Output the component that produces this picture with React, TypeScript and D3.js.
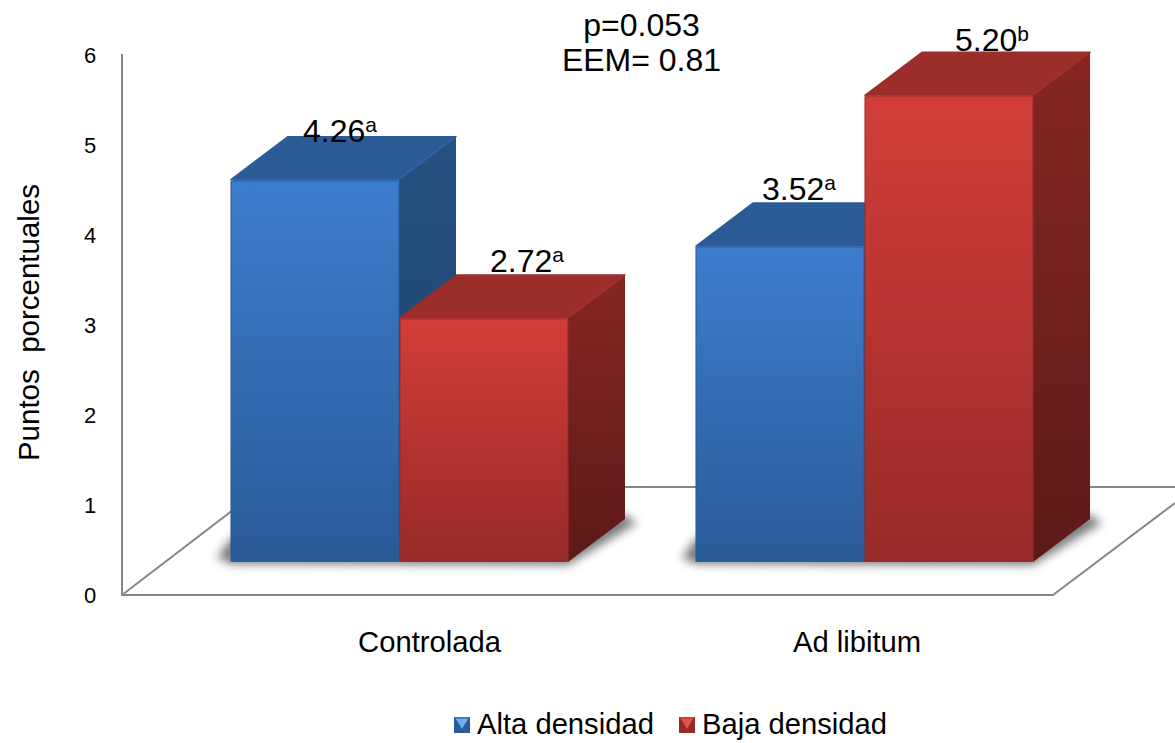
import React from "react";
import * as d3 from "d3";

const categories = ["Controlada", "Ad libitum"];
const seriesNames = ["Alta densidad", "Baja densidad"];
const altaDensidad = [4.26, 3.52];
const bajaDensidad = [2.72, 5.2];
const altaLetters = ["a", "a"];
const bajaLetters = ["a", "b"];
const yTicks = [0, 1, 2, 3, 4, 5, 6];

const FONT = "'Liberation Sans', Arial, sans-serif";
const DX = 57;
const DY = -43;

const palette = [
  { id: "blue", frontTop: "#3d7dce", frontBottom: "#2a5a97", top: "#2b5c98", sideTop: "#25507f", sideBottom: "#1d4069", edge: "#346cb3", glow: "#6fb0ec" },
  { id: "red", frontTop: "#d33d39", frontBottom: "#972a29", top: "#9b2d2b", sideTop: "#862622", sideBottom: "#5c1a18", edge: "#b33431", glow: "#e0524c" },
];

// Per-label nudges from the top-back corner of each bar
const labelOffsets = [
  [{ x: 72, y: -38 }, { x: 90, y: -46 }],
  [{ x: 66, y: -46 }, { x: 90, y: -44 }],
];

const yScale = d3.scaleLinear().domain([0, 6]).range([562, 23.5]);
const barLeft = [
  [231, 400],
  [696, 865],
];
const barWidth = 168;

const pts = (p: number[][]) => p.map((q) => q.join(",")).join(" ");

function Bar({ x, value, c }: { x: number; value: number; c: (typeof palette)[number] }) {
  const y0 = yScale(0);
  const y1 = yScale(value);
  const r = x + barWidth;
  return (
    <g strokeLinejoin="round">
      <polygon
        points={pts([[x, y1], [r, y1], [r + DX, y1 + DY], [x + DX, y1 + DY]])}
        fill={c.top}
        stroke={c.top}
        strokeWidth={1.5}
      />
      <polygon points={pts([[r, y1], [r + DX, y1 + DY], [r + DX, y0 + DY], [r, y0]])} fill={`url(#side-${c.id})`} />
      <rect x={x} y={y1} width={barWidth} height={y0 - y1} fill={`url(#front-${c.id})`} rx={1.5} />
      <line x1={x + 1} y1={y1 + 1} x2={r - 1} y2={y1 + 1} stroke={c.edge} strokeWidth={2} />
      <line x1={r + 1} y1={y1 - 1} x2={r + DX - 1} y2={y1 + DY + 1} stroke={c.edge} strokeWidth={2} opacity={0.45} />
      <line x1={x} y1={y1 + 1} x2={x} y2={y0} stroke={c.frontBottom} strokeWidth={1.5} opacity={0.7} />
      <line x1={r} y1={y1 + 1} x2={r} y2={y0} stroke={c.frontBottom} strokeWidth={1.5} opacity={0.8} />
    </g>
  );
}

// Soft contact shadow that falls on the floor behind a bar group
function Shadow({ x, width }: { x: number; width: number }) {
  const y0 = yScale(0);
  return (
    <polygon
      points={pts([
        [x - 14, y0 - 4],
        [x, y0 + 2],
        [x + width, y0 + 3],
        [x + width + DX + 12, y0 + DY + 4],
        [x + width + DX, y0 + DY - 4],
        [x, y0 - 24],
      ])}
      fill="#444"
      opacity={0.7}
      filter="url(#soft)"
    />
  );
}

function LegendMark({ x, y, c }: { x: number; y: number; c: (typeof palette)[number] }) {
  const s = 16;
  const m = 2;
  return (
    <g>
      <rect x={x} y={y} width={s} height={s} fill={c.frontBottom} />
      <polygon points={pts([[x, y], [x + s, y], [x + s - m, y + m], [x + m, y + m]])} fill={c.frontTop} />
      <polygon points={pts([[x + m, y + m], [x + s - m, y + m], [x + s / 2, y + s - 4]])} fill={c.glow} />
    </g>
  );
}

export default function App() {
  return (
    <svg
      width={1175}
      height={743}
      viewBox="0 0 1175 743"
      style={{ position: "absolute", left: 0, top: 0, background: "#fff" }}
      fontFamily={FONT}
      fill="#000"
    >
      <defs>
        {palette.map((c) => (
          <React.Fragment key={c.id}>
            <linearGradient id={`front-${c.id}`} x1="0" y1="0" x2="0" y2="1">
              <stop offset="0" stopColor={c.frontTop} />
              <stop offset="1" stopColor={c.frontBottom} />
            </linearGradient>
            <linearGradient id={`side-${c.id}`} x1="0" y1="0" x2="0" y2="1">
              <stop offset="0" stopColor={c.sideTop} />
              <stop offset="1" stopColor={c.sideBottom} />
            </linearGradient>
          </React.Fragment>
        ))}
        <filter id="soft" x="-20%" y="-50%" width="140%" height="200%">
          <feGaussianBlur stdDeviation="5" />
        </filter>
      </defs>

      {/* Back wall edge and floor outline */}
      <g stroke="#868686" strokeWidth={2} fill="none">
        <polyline points={pts([[122, 54], [122, 595], [1053, 595], [1175, 503]])} />
        <line x1={122} y1={595} x2={263} y2={487} />
        <line x1={263} y1={487} x2={1175} y2={487} />
      </g>

      {/* Vertical axis ticks */}
      <g fontSize={22} textAnchor="middle">
        {yTicks.map((t) => (
          <text key={t} x={90} y={603 - t * 90}>
            {t}
          </text>
        ))}
      </g>
      <text transform="translate(39,322.5) rotate(-90)" fontSize={29.5} textAnchor="middle" xmlSpace="preserve">
        Puntos  porcentuales
      </text>

      {/* Bars, drawn group by group so nearer faces overlap */}
      {categories.map((cat, i) => (
        <Shadow key={cat} x={barLeft[i][0]} width={barWidth * 2 + 1} />
      ))}
      {categories.map((cat, i) => (
        <g key={cat}>
          <Bar x={barLeft[i][0]} value={altaDensidad[i]} c={palette[0]} />
          <Bar x={barLeft[i][1]} value={bajaDensidad[i]} c={palette[1]} />
        </g>
      ))}

      {/* Value labels with significance letters */}
      <g fontSize={32}>
        {categories.map((cat, i) =>
          [altaDensidad[i], bajaDensidad[i]].map((v, j) => (
            <text key={cat + j} x={barLeft[i][j] + labelOffsets[i][j].x} y={yScale(v) + labelOffsets[i][j].y}>
              {v.toFixed(2)}
              <tspan fontSize={21} dy={-10}>
                {(j === 0 ? altaLetters : bajaLetters)[i]}
              </tspan>
            </text>
          )),
        )}
      </g>

      {/* Statistics note */}
      <g fontSize={32} textAnchor="middle">
        <text x={641.5} y={36}>p=0.053</text>
        <text x={641.5} y={71}>EEM= 0.81</text>
      </g>

      {/* Category labels */}
      <g fontSize={29.2} textAnchor="middle">
        {categories.map((cat, i) => (
          <text key={cat} x={[429.5, 857][i]} y={652}>
            {cat}
          </text>
        ))}
      </g>

      {/* Legend */}
      <LegendMark x={454} y={717} c={palette[0]} />
      <LegendMark x={679} y={717} c={palette[1]} />
      <g fontSize={29.2}>
        <text x={477} y={734}>{seriesNames[0]}</text>
        <text x={702} y={734}>{seriesNames[1]}</text>
      </g>
    </svg>
  );
}
